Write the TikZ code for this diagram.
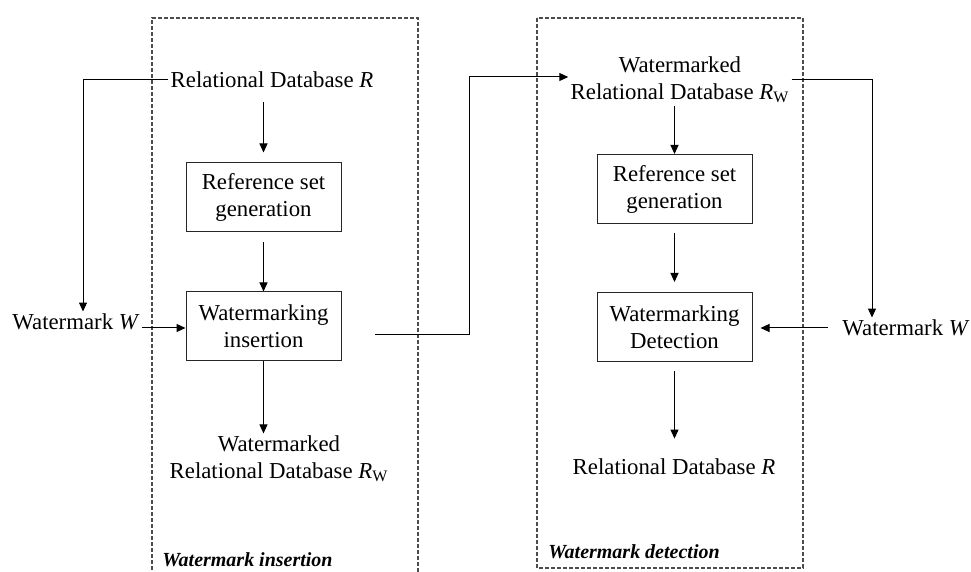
\documentclass[tikz,border=0pt]{standalone}
\usepackage{fontspec}
\setmainfont{Liberation Serif}
\usetikzlibrary{arrows.meta}

\begin{document}
\begin{tikzpicture}[
    x=0.5pt, y=-0.5pt,
    every node/.style={font=\fontsize{11.4}{13.5}\selectfont, inner sep=1pt},
    box/.style={rectangle, draw=black!85, line width=0.5pt, minimum width=77.5pt, minimum height=34.5pt, align=center, inner sep=0pt},
    txt/.style={align=center},
    areaname/.style={anchor=west, inner sep=0pt, font=\fontsize{10}{12}\selectfont\bfseries\itshape},
    area/.style={draw=black!70, line width=0.6pt, dash pattern=on 2pt off 1pt},
    arrow/.style={line width=0.5pt, -{Triangle[length=4.5pt,width=4pt]}}
    ]
    \useasboundingbox (0,0) rectangle (971,572);

    % Areas
    \draw[area] (152,576) -- (152,18) -- (418,18) -- (418,576);
    \draw[area] (537,18) rectangle (803,568);
    \node[areaname] (insname) at (162,560) {Watermark insertion};
    \node[areaname] (detname) at (548,552) {Watermark detection};

    % Nodes (insertion)
    \node[txt] (rdb1) at (272,80) {Relational Database \textit{R}};
    \node[box] (ref1) at (263.5,197.5) {Reference set\\generation};
    \node[box] (ins1) at (263.5,326.5) {Watermarking\\insertion};
    \node[txt] (wm1) at (76,322) {Watermark \textit{W}};
    \node[txt] (rdbw1) at (279,459) {Watermarked\\Relational Database \textit{R}\textsubscript{W}};

    % Nodes (detection)
    \node[txt] (rdbw2) at (680,80) {Watermarked\\Relational Database \textit{R}\textsubscript{W}};
    \node[box] (ref2) at (674.5,189) {Reference set\\generation};
    \node[box] (det2) at (674.5,327) {Watermarking\\Detection};
    \node[txt] (wm2) at (906,328) {Watermark \textit{W}};
    \node[txt] (rdb2) at (674,467) {Relational Database \textit{R}};

    \coordinate (out1) at (375,335);
    \coordinate (bend1) at (469,77);

    % Arrows
    \draw[arrow, shorten <=6pt, shorten >=5pt] (rdb1.south -| ref1.north) -- (ref1.north);
    \draw[arrow, shorten <=5pt] (ref1.south) -- (ins1.north);
    \draw[arrow] (ins1.south) -- (ins1.south |- rdbw1.north);
    \draw[arrow] (rdb1.west) -| ([xshift=3.5pt]wm1.north);
    \draw[arrow] ([yshift=-3pt]wm1.east) -- ([yshift=-3pt]wm1.east -| ins1.west);
    \draw[arrow] (out1) -| (bend1) -- (bend1 -| rdbw2.west);
    \draw[arrow] (rdbw2.south -| ref2.north) -- (ref2.north);
    \draw[arrow, shorten <=4.5pt, shorten >=5pt] (ref2.south) -- (det2.north);
    \draw[arrow, shorten <=4.5pt, shorten >=9pt] (det2.south) -- (det2.south |- rdb2.north);
    \draw[arrow] (rdbw2.east) -| ([xshift=-17pt]wm2.north);
    \draw[arrow, shorten <=6pt, shorten >=4pt] (wm2.west) -- (wm2.west -| det2.east);
\end{tikzpicture}
\end{document}
